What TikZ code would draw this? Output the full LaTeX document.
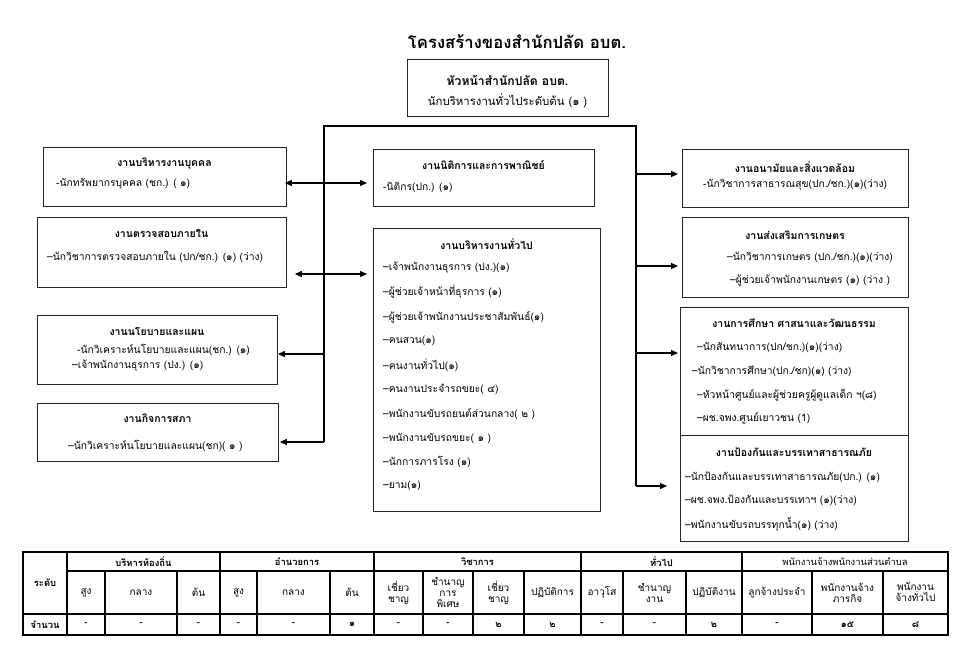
\documentclass[tikz,border=0pt]{standalone}
\usepackage{fontspec}
\setmainfont[Script=Thai]{Loma}
\usetikzlibrary{arrows.meta}
\begin{document}
\begin{tikzpicture}[x=1pt,y=-1pt,
  box/.style={draw=black!85, line width=0.9pt, inner sep=0pt, anchor=north west},
  ttl/.style={font=\bfseries\fontsize{10.5}{12}\selectfont, inner sep=0pt},
  itm/.style={font=\fontsize{10.3}{12}\selectfont, inner sep=0pt, anchor=west},
  conn/.style={line width=1.2pt, black},
  arr/.style={conn, -{Triangle[length=7pt,width=6pt]}},
  darr/.style={conn, {Triangle[length=7pt,width=6pt]}-{Triangle[length=7pt,width=6pt]}},
  tline/.style={line width=1.1pt, black},
  tcell/.style={font=\bfseries\fontsize{9.4}{11}\selectfont, inner sep=0pt, align=center}]
\useasboundingbox (0,0) rectangle (968,662);

% title
\node[font=\bfseries\fontsize{16.7}{20}\selectfont, inner sep=0pt] (title) at (517,42) {โครงสร้างของสำนักปลัด อบต.};

% head box
\node[box, minimum width=201pt, minimum height=57pt] (head) at (407,59) {};
\node[font=\bfseries\fontsize{12.2}{14}\selectfont, inner sep=0pt] (headA) at (507.5,80) {หัวหน้าสำนักปลัด อบต.};
\node[font=\fontsize{11.4}{13}\selectfont, inner sep=0pt] (headB) at (507.5,101) {นักบริหารงานทั่วไประดับต้น (๑ )};

% left boxes
\node[box, minimum width=243pt, minimum height=59pt] (lb1) at (43,147) {};
\node[ttl] (lb1t) at (164.5,164) {งานบริหารงานบุคคล};
\node[itm] (lb1a) at (56,184) {-นักทรัพยากรบุคคล (ชก.) ( ๑)};

\node[box, minimum width=249pt, minimum height=70pt] (lb2) at (37,217) {};
\node[ttl] (lb2t) at (161.5,234) {งานตรวจสอบภายใน};
\node[itm] (lb2a) at (47,257) {–นักวิชาการตรวจสอบภายใน (ปก/ชก.) (๑) (ว่าง)};

\node[box, minimum width=240pt, minimum height=69pt] (lb3) at (37,315) {};
\node[ttl] (lb3t) at (157,332) {งานนโยบายและแผน};
\node[itm] (lb3a) at (77,350) {-นักวิเคราะห์นโยบายและแผน(ชก.) (๑)};
\node[itm] (lb3b) at (72,366) {–เจ้าพนักงานธุรการ (ปง.) (๑)};

\node[box, minimum width=241pt, minimum height=58pt] (lb4) at (37,403) {};
\node[ttl] (lb4t) at (157.5,418) {งานกิจการสภา};
\node[itm] (lb4a) at (68,446) {–นักวิเคราะห์นโยบายและแผน(ชก)( ๑ )};

% middle boxes
\node[box, minimum width=221pt, minimum height=57pt] (mb1) at (373,149) {};
\node[ttl] (mb1t) at (483.5,165) {งานนิติการและการพาณิชย์};
\node[itm] (mb1a) at (383,187) {-นิติกร(ปก.) (๑)};

\node[box, minimum width=227pt, minimum height=283pt] (mb2) at (373,228) {};
\node[ttl] (mb2t) at (486.5,244) {งานบริหารงานทั่วไป};
\node[itm] (mb2a) at (383,268) {–เจ้าพนักงานธุรการ (ปง.)(๑)};
\node[itm] (mb2b) at (383,292) {–ผู้ช่วยเจ้าหน้าที่ธุรการ (๑)};
\node[itm] (mb2c) at (383,317) {–ผู้ช่วยเจ้าพนักงานประชาสัมพันธ์(๑)};
\node[itm] (mb2d) at (383,341) {–คนสวน(๑)};
\node[itm] (mb2e) at (383,365) {–คนงานทั่วไป(๑)};
\node[itm] (mb2f) at (383,389) {–คนงานประจำรถขยะ( ๔)};
\node[itm] (mb2g) at (383,414) {–พนักงานขับรถยนต์ส่วนกลาง( ๒ )};
\node[itm] (mb2h) at (383,438) {–พนักงานขับรถขยะ( ๑ )};
\node[itm] (mb2i) at (383,462) {–นักการภารโรง (๑)};
\node[itm] (mb2j) at (383,486) {–ยาม(๑)};

% right boxes
\node[box, minimum width=226pt, minimum height=58pt] (rb1) at (682,149) {};
\node[ttl] (rb1t) at (795,167) {งานอนามัยและสิ่งแวดล้อม};
\node[itm] (rb1a) at (703,185) {-นักวิชาการสาธารณสุข(ปก./ชก.)(๑)(ว่าง)};

\node[box, minimum width=226pt, minimum height=80pt] (rb2) at (682,217) {};
\node[ttl] (rb2t) at (795,235) {งานส่งเสริมการเกษตร};
\node[itm] (rb2a) at (727,257) {–นักวิชาการเกษตร (ปก./ชก.)(๑)(ว่าง)};
\node[itm] (rb2b) at (730,281) {–ผู้ช่วยเจ้าพนักงานเกษตร (๑) (ว่าง )};

\node[box, minimum width=228pt, minimum height=128pt] (rb3) at (680,307) {};
\node[ttl] (rb3t) at (794,323) {งานการศึกษา ศาสนาและวัฒนธรรม};
\node[itm] (rb3a) at (697,347) {–นักสันทนาการ(ปก/ชก.)(๑)(ว่าง)};
\node[itm] (rb3b) at (692,371) {–นักวิชาการศึกษา(ปก./ชก)(๑) (ว่าง)};
\node[itm] (rb3c) at (697,395) {–หัวหน้าศูนย์และผู้ช่วยครูผู้ดูแลเด็ก ฯ(๘)};
\node[itm] (rb3d) at (697,418) {–ผช.จพง.ศูนย์เยาวชน (1)};

\node[box, minimum width=228pt, minimum height=106pt] (rb4) at (680,435) {};
\node[ttl] (rb4t) at (794,452) {งานป้องกันและบรรเทาสาธารณภัย};
\node[itm] (rb4a) at (685,477) {–นักป้องกันและบรรเทาสาธารณภัย(ปก.) (๑)};
\node[itm] (rb4b) at (685,500) {–ผช.จพง.ป้องกันและบรรเทาฯ (๑)(ว่าง)};
\node[itm] (rb4c) at (685,524) {–พนักงานขับรถบรรทุกน้ำ(๑) (ว่าง)};

% frame and connectors
\coordinate (fl) at (324,126);
\coordinate (fr) at (636,126);
\coordinate (fl0) at (324,442);
\coordinate (fr0) at (636,486);
\draw[conn] (fl0) -- (fl) -- (fr) -- (fr0);

\coordinate (d1) at (0,183);
\coordinate (d2) at (0,274);
\draw[darr, shorten <=-2pt, shorten >=6pt] (lb1.east |- d1) -- (mb1.west |- d1);
\draw[darr, shorten <=8pt, shorten >=6pt] (lb2.east |- d2) -- (mb2.west |- d2);

\coordinate (l3) at (324,354);
\draw[arr] (l3) -- (l3 -| lb3.east);
\draw[arr, shorten >=1pt] (fl0) -- (fl0 -| lb4.east);

\coordinate (r1) at (636,174);
\coordinate (r2) at (636,266);
\coordinate (r3) at (636,353);
\draw[arr, shorten >=4pt] (r1) -- (r1 -| rb1.west);
\draw[arr, shorten >=4pt] (r2) -- (r2 -| rb2.west);
\draw[arr, shorten >=2pt] (r3) -- (r3 -| rb3.west);
\draw[arr, shorten >=13pt] (fr0) -- (fr0 -| rb4.west);

% table
\draw[tline] (23,552) rectangle (948,635);
\draw[tline] (67,571) -- (948,571);
\draw[tline] (23,614) -- (948,614);
\foreach \x in {67,220,374,581,742} \draw[tline] (\x,552) -- (\x,635);
\foreach \x in {105,177,257,330,423,473,524,623,686,812,883} \draw[tline] (\x,571) -- (\x,635);

\node[tcell] (tlev) at (45,583) {ระดับ};
\node[tcell] (tnum) at (45,624.5) {จำนวน};
\node[tcell] (g1) at (143.5,561.5) {บริหารท้องถิ่น};
\node[tcell] (g2) at (297,561.5) {อำนวยการ};
\node[tcell] (g3) at (477.5,561.5) {วิชาการ};
\node[tcell] (g4) at (661.5,561.5) {ทั่วไป};
\node[tcell, font=\fontsize{9.4}{11}\selectfont] (g5) at (845,561.5) {พนักงานจ้างพนักงานส่วนตำบล};

\foreach \a/\b/\t [count=\i] in {67/105/สูง, 105/177/กลาง, 177/220/ต้น, 220/257/สูง, 257/330/กลาง, 330/374/ต้น, 374/423/{เชี่ยว\\ชาญ}, 423/473/{ชำนาญ\\การ\\พิเศษ}, 473/524/{เชี่ยว\\ชาญ}, 524/581/ปฏิบัติการ, 581/623/อาวุโส, 623/686/{ชำนาญ\\งาน}, 686/742/ปฏิบัติงาน, 742/812/ลูกจ้างประจำ, 812/883/{พนักงานจ้าง\\ภารกิจ}, 883/948/{พนักงาน\\จ้างทั่วไป}}
  \node[tcell, font=\fontsize{10}{11}\selectfont] (h\i) at ({(\a+\b)/2},592.5) {\t};

\foreach \a/\b/\t [count=\i] in {67/105/-, 105/177/-, 177/220/-, 220/257/-, 257/330/-, 330/374/๑, 374/423/-, 423/473/-, 473/524/๒, 524/581/๒, 581/623/-, 623/686/-, 686/742/๒, 742/812/-, 812/883/๑๕, 883/948/๘}
  \node[tcell] (v\i) at ({(\a+\b)/2},624.5) {\t};
\end{tikzpicture}
\end{document}
